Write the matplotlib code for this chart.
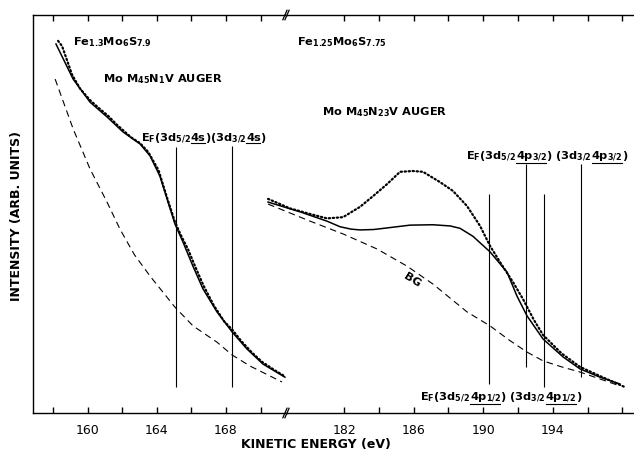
import numpy as np
import matplotlib
matplotlib.use('Agg')
import matplotlib.pyplot as plt
from matplotlib.lines import Line2D
from matplotlib.transforms import IdentityTransform

plt.rcParams['font.family'] = 'DejaVu Sans'
plt.rcParams['mathtext.fontset'] = 'custom'
plt.rcParams['mathtext.rm'] = 'DejaVu Sans:bold'
plt.rcParams['mathtext.default'] = 'rm'

# ---- left panel: Mo M45N1V Auger (Fe1.3Mo6S7.9) ----
left_fit_E = [158.17, 159.16, 160.14, 161.12, 162.05, 163.03, 163.61, 164.18, 164.65,
              165.05, 165.51, 166.09, 166.67, 167.48, 168.35, 169.21, 170.14, 171.41]
left_fit_I = [92.7, 83.9, 78.1, 74.4, 70.6, 67.6, 64.6, 59.5, 53.0, 47.5, 43.0, 36.9,
              31.2, 25.4, 20.4, 16.1, 12.3, 9.0]

left_bg_E = [158.12, 159.16, 160.14, 161.12, 161.87, 162.7, 163.61, 165.05, 166.09,
             167.48, 168.35, 169.39, 171.24]
left_bg_I = [83.9, 71.4, 61.3, 53.0, 46.2, 39.8, 34.4, 26.6, 21.9, 17.8, 14.6, 11.8, 7.8]

left_dat_E = [158.29, 158.52, 159.1, 159.56, 160.14, 160.6, 161.2, 161.7, 162.5, 163.03,
              163.5, 164.1, 164.6, 165.05, 165.4, 165.8, 166.2, 166.7, 167.3, 167.9,
              168.35, 168.9, 169.5, 170.1, 170.8, 171.41]
left_dat_I = [93.5, 92.2, 85.0, 81.5, 78.6, 76.8, 74.6, 72.4, 69.3, 67.8, 65.6, 61.0,
              54.0, 48.0, 44.6, 41.2, 37.0, 32.0, 27.0, 23.0, 21.0, 18.0, 15.2, 12.8,
              10.8, 9.2]

left_lines_E = [165.1, 168.35]
left_lines_lo = [6.5, 6.5]
left_lines_hi = [66.8, 67.1]

# ---- right panel: Mo M45N23V Auger (Fe1.25Mo6S7.75) ----
right_fit_E = [177.63, 179.5, 181.02, 181.77, 182.4, 182.92, 183.7, 184.47, 185.79,
               187.11, 188.1, 188.67, 189.41, 190.39, 191.37, 191.94, 192.52, 193.44,
               194.59, 195.56, 196.71, 197.86]
right_fit_I = [53.0, 50.5, 48.2, 46.8, 46.2, 46.0, 46.1, 46.5, 47.2, 47.3, 47.0, 46.4,
               44.4, 40.5, 35.4, 29.4, 24.4, 18.6, 14.1, 11.1, 9.0, 7.3]

right_bg_E = [177.63, 180.05, 181.94, 183.9, 185.62, 187.11, 189.07, 190.39, 191.5,
              192.52, 193.44, 194.5, 195.56, 197.86]
right_bg_I = [52.5, 48.2, 45.0, 41.2, 36.9, 32.4, 25.4, 21.9, 18.3, 15.3, 13.1, 11.6,
              10.3, 6.8]

right_dat_E = [177.63, 178.9, 180.05, 181.02, 181.94, 182.92, 183.67, 184.47, 185.22,
               185.97, 186.54, 187.52, 188.26, 189.07, 189.82, 190.39, 190.97, 191.71,
               192.29, 192.9, 193.44, 194.5, 195.56, 196.71, 198.15]
right_dat_I = [53.8, 51.4, 50.0, 48.9, 49.2, 51.8, 54.5, 57.5, 60.6, 60.8, 60.6, 58.0,
               55.8, 52.0, 47.0, 42.0, 37.9, 32.9, 28.6, 23.5, 19.6, 15.0, 11.6, 9.3, 6.5]

right_lines_E = [190.33, 192.46, 193.49, 195.62]
right_lines_lo = [7.3, 11.6, 6.5, 9.0]
right_lines_hi = [55.0, 62.6, 55.0, 62.6]

left_ticks = [158, 160, 162, 164, 166, 168, 170]
right_ticks = [182, 184, 186, 188, 190, 192, 194, 196, 198]

# labels split into pieces: (text, underlined)
lab_4s = [('E$_F$(3d$_{5/2}$', False), ('4s', True), (')(3d$_{3/2}$', False),
          ('4s', True), (')', False)]
lab_p32 = [('E$_F$(3d$_{5/2}$', False), ('4p$_{3/2}$', True), (') (3d$_{3/2}$', False),
           ('4p$_{3/2}$', True), (')', False)]
lab_p12 = [('E$_F$(3d$_{5/2}$', False), ('4p$_{1/2}$', True), (') (3d$_{3/2}$', False),
           ('4p$_{1/2}$', True), (')', False)]

fig = plt.figure(figsize=(6.34, 4.52), dpi=100)
ax1 = fig.add_axes([33/634, 38/452, 254/634, 398/452])
ax2 = fig.add_axes([287/634, 38/452, 347/634, 398/452])
ax2.patch.set_alpha(0)

ax1.set_xlim(156.84, 171.53)
ax2.set_xlim(178.72, 198.67)
for ax in (ax1, ax2):
    ax.set_ylim(0, 100)
    ax.set_yticks([])
    ax.spines['right'].set_visible(False)
    for s in ax.spines.values():
        s.set_linewidth(1.0)
    ax.tick_params(axis='x', direction='in', top=True, length=4, width=1,
                   labelsize=9, pad=7)
ax2.spines['left'].set_visible(False)

ax1.set_xticks(left_ticks)
ax1.set_xticklabels([str(t) if t % 4 == 0 else '' for t in left_ticks])
ax2.set_xticks(right_ticks)
ax2.set_xticklabels([str(t) if t % 4 == 2 and t < 196 else '' for t in right_ticks])

dots = dict(color='k', lw=1.6, linestyle=(0, (0.6, 1.2)), dash_capstyle='round')

ax1.plot(left_dat_E, left_dat_I, **dots)
ax1.plot(left_fit_E, left_fit_I, color='k', lw=1.1)
ax1.plot(left_bg_E, left_bg_I, color='k', lw=0.8, linestyle=(0, (6, 4)))
ax1.vlines(left_lines_E, left_lines_lo, left_lines_hi, color='k', lw=0.8)

ax2.plot(right_dat_E, right_dat_I, clip_on=False, **dots)
ax2.plot(right_fit_E, right_fit_I, color='k', lw=1.1, clip_on=False)
ax2.plot(right_bg_E, right_bg_I, color='k', lw=0.8, linestyle=(0, (6, 4)), clip_on=False)
ax2.vlines(right_lines_E, right_lines_lo, right_lines_hi, color='k', lw=0.8)

fs = 8.2
tkw = dict(fontsize=fs, fontweight='bold')
ax1.text(159.16, 93.5, r'Fe$_{1.3}$Mo$_6$S$_{7.9}$', va='center', **tkw)
ax1.text(160.89, 84.2, r'Mo M$_{45}$N$_1$V AUGER', va='center', **tkw)
ax2.text(179.3, 93.5, r'Fe$_{1.25}$Mo$_6$S$_{7.75}$', va='center', **tkw)
ax2.text(180.74, 75.9, r'Mo M$_{45}$N$_{23}$V AUGER', va='center', **tkw)
ax2.text(185.9, 33.7, 'BG', rotation=-32, ha='center', va='center', **tkw)

fig.text(17/634, 1 - 216/452, 'INTENSITY (ARB. UNITS)', rotation=90, fontsize=9,
         fontweight='bold', ha='center', va='center')
fig.text(316/634, 1 - 445/452, 'KINETIC ENERGY (eV)', fontsize=9, fontweight='bold',
         ha='center', va='center')

# break marks on the axis
for yb in (0, 1):
    for dx in (-0.006, 0.0):
        ax2.plot([dx - 0.006, dx + 0.006], [yb - 0.012, yb + 0.012], color='k', lw=0.9,
                 transform=ax2.transAxes, clip_on=False)

# mathtext has no \underline: lay the label out piece by piece and rule the pieces
r = fig.canvas.get_renderer()
for ax, x, y, parts in [(ax1, 163.09, 68.5, lab_4s), (ax2, 189.01, 64.0, lab_p32),
                        (ax2, 186.37, 3.4, lab_p12)]:
    cx, by = ax.transData.transform((x, y))
    for p, u in parts:
        t = fig.text(cx, by, p, va='baseline', ha='left',
                     transform=IdentityTransform(), **tkw)
        bb = t.get_window_extent(r)
        if u:
            fig.add_artist(Line2D([bb.x0 + 0.5, bb.x1 - 0.5], [bb.y0 - 0.3, bb.y0 - 0.3],
                                  color='k', lw=0.8, transform=IdentityTransform()))
        cx = bb.x1 - 0.5

fig.savefig('out.png', dpi=100)
